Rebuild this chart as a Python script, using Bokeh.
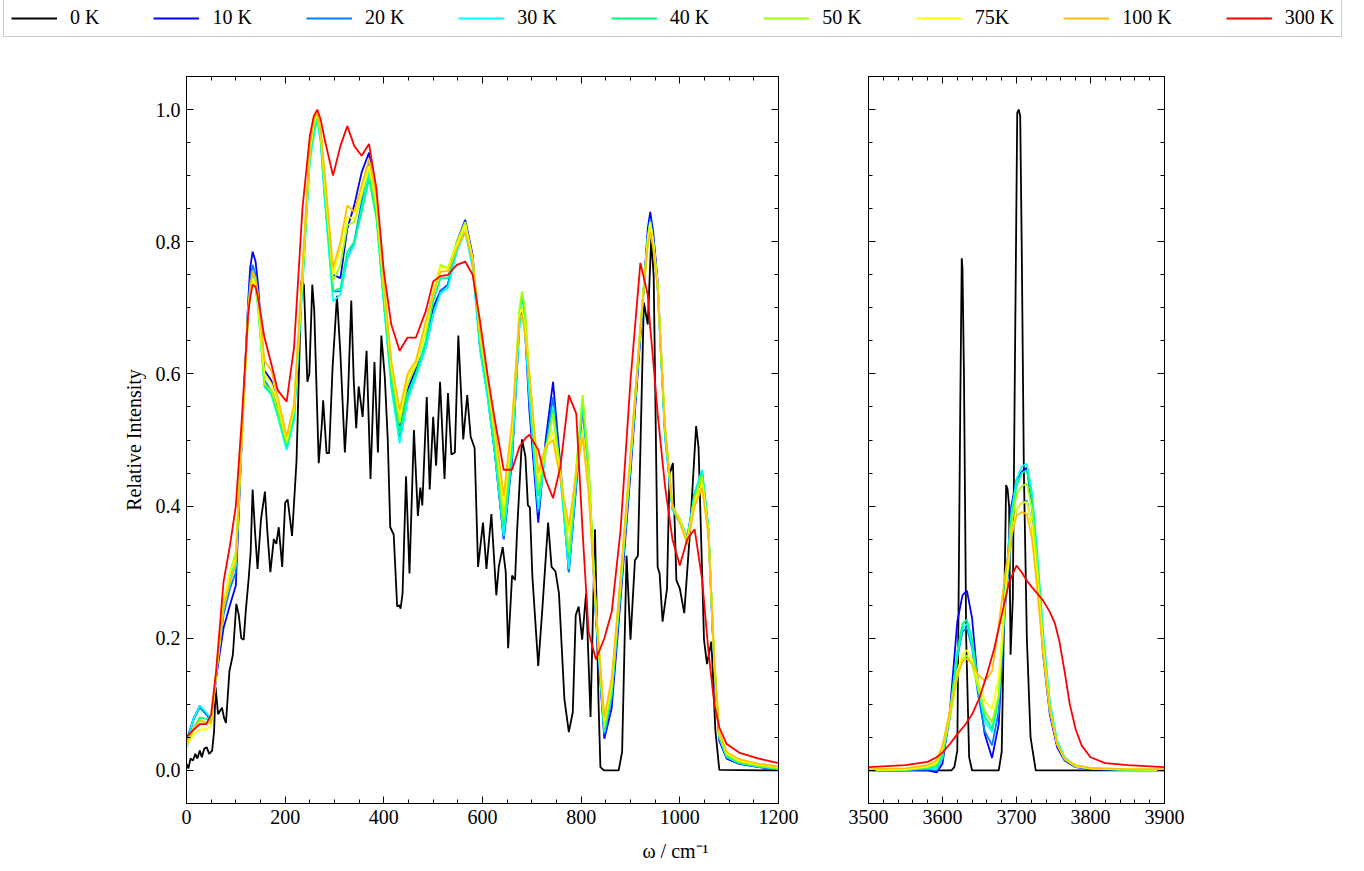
from bokeh.plotting import figure
from bokeh.models import (Range1d, FixedTicker, NumeralTickFormatter, LinearAxis,
                          Legend, LegendItem, Label, CustomJSTickFormatter)
from bokeh.layouts import column, row
from bokeh.embed import file_html
from bokeh.resources import INLINE

FONT = "Liberation Serif"

labels = ["0 K", "10 K", "20 K", "30 K", "40 K", "50 K", "75K", "100 K", "300 K"]
colors = ["#000000", "#0000ff", "#0080ff", "#00ffff", "#00ff80", "#a0ff00", "#ffff00", "#ffc000", "#ff0000"]

# ---------------- left panel (0 - 1200 cm-1) ----------------
x_left_0K = [0,4,8,13,18,22,27,31,36,41,46,52,56,59,64,68,72,76,80,87,94,101,106,111,116,120,126,130,134,139,
             144,151,159,164,170,177,182,187,194,200,205,214,223,233,238,245,249,255,259,268,274,277,284,289,296,305,312,321,327,334,
             339,344,349,357,365,373,381,388,395,402,408,413,420,427,431,434,438,445,452,461,469,474,478,487,493,500,506,514,523,530,
             537,544,551,561,569,576,584,591,601,608,618,628,633,641,647,652,660,666,670,680,687,692,696,701,713,721,733,740,748,755,
             766,775,783,789,795,802,810,819,828,835,839,846,876,883,892,900,909,915,927,935,942,947,955,959,965,974,979,986,993,1000,
             1009,1020,1033,1038,1049,1055,1064,1072,1080,1200]
y_left_0K = [0.010,0.003,0.018,0.015,0.025,0.018,0.030,0.020,0.033,0.035,0.025,0.030,0.060,0.126,0.085,0.090,0.095,0.080,0.072,0.150,
             0.175,0.252,0.235,0.200,0.198,0.240,0.290,0.330,0.425,0.360,0.305,0.380,0.422,0.360,0.300,0.350,0.343,0.368,0.308,0.405,
             0.410,0.355,0.468,0.741,0.735,0.588,0.600,0.735,0.695,0.465,0.520,0.560,0.480,0.480,0.608,0.718,0.630,0.481,0.560,0.711,
             0.590,0.518,0.581,0.535,0.635,0.441,0.618,0.481,0.658,0.595,0.500,0.368,0.357,0.248,0.250,0.245,0.268,0.445,0.298,0.515,
             0.385,0.428,0.401,0.565,0.425,0.535,0.461,0.588,0.441,0.571,0.478,0.481,0.658,0.501,0.568,0.505,0.488,0.308,0.375,0.305,
             0.388,0.265,0.308,0.338,0.301,0.185,0.295,0.288,0.361,0.501,0.475,0.401,0.398,0.295,0.158,0.241,0.375,0.308,0.301,0.268,
             0.108,0.058,0.088,0.235,0.248,0.198,0.268,0.081,0.365,0.108,0.005,0.000,0.000,0.028,0.325,0.198,0.318,0.325,0.708,0.675,
             0.805,0.748,0.308,0.298,0.225,0.275,0.448,0.465,0.288,0.275,0.238,0.355,0.521,0.488,0.198,0.161,0.195,0.061,0.001,0.000]

x_left = [0,15,27,40,50,60,75,88,100,112,
          125,129,134,140,145,158,172,185,203,218,
          235,250,258,265,272,280,297,312,326,340,
          355,370,385,400,415,432,448,465,485,500,
          515,530,548,565,580,595,610,625,643,660,
          675,680,686,695,713,728,743,758,775,790,
          803,815,830,847,862,880,900,920,935,940,
          946,955,970,985,1000,1015,1030,1045,1058,1070,
          1080,1095,1120,1160,1200]
y_left_10K = [0.045,0.080,0.098,0.085,0.075,0.140,0.215,0.250,0.280,0.500,
              0.710,0.760,0.785,0.770,0.735,0.605,0.590,0.550,0.492,0.540,
              0.745,0.940,0.980,0.995,0.965,0.885,0.750,0.745,0.820,0.855,
              0.905,0.935,0.850,0.720,0.600,0.521,0.575,0.608,0.640,0.700,
              0.726,0.735,0.800,0.833,0.780,0.640,0.570,0.480,0.350,0.470,
              0.680,0.700,0.670,0.545,0.375,0.500,0.588,0.460,0.300,0.430,
              0.550,0.450,0.230,0.048,0.095,0.260,0.450,0.655,0.820,0.845,
              0.815,0.740,0.510,0.400,0.378,0.352,0.420,0.450,0.360,0.150,
              0.045,0.018,0.010,0.005,0.002]
y_left_20K = [0.040,0.078,0.095,0.085,0.075,0.140,0.235,0.275,0.300,0.500,
              0.700,0.740,0.765,0.750,0.720,0.590,0.575,0.540,0.488,0.535,
              0.740,0.930,0.970,0.990,0.955,0.870,0.725,0.725,0.775,0.800,
              0.860,0.920,0.845,0.710,0.590,0.505,0.565,0.600,0.640,0.690,
              0.725,0.735,0.795,0.828,0.770,0.640,0.570,0.480,0.350,0.475,
              0.680,0.700,0.672,0.560,0.390,0.490,0.565,0.450,0.300,0.435,
              0.550,0.450,0.230,0.055,0.110,0.270,0.460,0.660,0.810,0.835,
              0.805,0.730,0.505,0.395,0.375,0.350,0.418,0.452,0.365,0.155,
              0.048,0.020,0.011,0.005,0.002]
y_left_30K = [0.042,0.080,0.098,0.088,0.078,0.145,0.245,0.285,0.310,0.500,
              0.690,0.725,0.750,0.735,0.710,0.585,0.568,0.535,0.485,0.530,
              0.730,0.920,0.960,0.985,0.950,0.865,0.710,0.720,0.775,0.795,
              0.850,0.905,0.840,0.705,0.580,0.495,0.560,0.595,0.640,0.690,
              0.722,0.730,0.785,0.815,0.760,0.635,0.565,0.480,0.355,0.480,
              0.670,0.690,0.665,0.565,0.395,0.480,0.550,0.440,0.305,0.440,
              0.555,0.455,0.235,0.058,0.115,0.275,0.465,0.665,0.805,0.830,
              0.800,0.730,0.505,0.395,0.375,0.350,0.420,0.455,0.368,0.158,
              0.050,0.020,0.011,0.006,0.002]
y_left_40K = [0.035,0.065,0.080,0.078,0.075,0.145,0.250,0.295,0.320,0.510,
              0.690,0.720,0.745,0.730,0.700,0.580,0.570,0.540,0.490,0.540,
              0.740,0.930,0.970,0.990,0.955,0.875,0.725,0.730,0.785,0.800,
              0.845,0.895,0.835,0.710,0.590,0.510,0.570,0.600,0.650,0.710,
              0.745,0.745,0.790,0.825,0.770,0.645,0.575,0.490,0.370,0.500,
              0.695,0.715,0.690,0.590,0.415,0.485,0.545,0.450,0.320,0.455,
              0.560,0.460,0.240,0.062,0.120,0.280,0.470,0.670,0.805,0.830,
              0.800,0.735,0.515,0.400,0.380,0.350,0.415,0.450,0.365,0.160,
              0.052,0.022,0.012,0.007,0.003]
y_left_50K = [0.040,0.062,0.076,0.072,0.072,0.150,0.255,0.300,0.330,0.510,
              0.690,0.720,0.745,0.730,0.705,0.585,0.575,0.545,0.495,0.545,
              0.745,0.935,0.975,0.995,0.960,0.885,0.740,0.765,0.825,0.830,
              0.870,0.912,0.850,0.725,0.605,0.525,0.585,0.612,0.665,0.725,
              0.765,0.760,0.800,0.830,0.775,0.655,0.585,0.505,0.380,0.510,
              0.700,0.725,0.700,0.600,0.425,0.480,0.540,0.455,0.330,0.460,
              0.568,0.465,0.245,0.065,0.125,0.285,0.470,0.670,0.805,0.830,
              0.800,0.735,0.520,0.400,0.380,0.348,0.412,0.445,0.362,0.160,
              0.054,0.024,0.013,0.007,0.003]
y_left_75K = [0.038,0.055,0.062,0.062,0.068,0.145,0.250,0.300,0.320,0.500,
              0.690,0.720,0.745,0.735,0.710,0.600,0.585,0.555,0.500,0.550,
              0.750,0.940,0.980,0.995,0.965,0.895,0.750,0.790,0.838,0.835,
              0.875,0.915,0.860,0.730,0.615,0.535,0.595,0.615,0.670,0.725,
              0.762,0.758,0.795,0.825,0.775,0.660,0.590,0.510,0.400,0.520,
              0.690,0.700,0.670,0.600,0.440,0.490,0.512,0.445,0.360,0.450,
              0.515,0.430,0.240,0.075,0.135,0.290,0.475,0.670,0.800,0.828,
              0.800,0.735,0.520,0.400,0.378,0.345,0.405,0.435,0.360,0.165,
              0.056,0.026,0.015,0.009,0.005]
y_left_100K = [0.040,0.065,0.075,0.073,0.072,0.145,0.245,0.285,0.315,0.500,
               0.700,0.730,0.755,0.745,0.720,0.620,0.605,0.565,0.505,0.555,
               0.760,0.945,0.985,0.997,0.970,0.905,0.760,0.800,0.855,0.845,
               0.885,0.925,0.870,0.740,0.620,0.545,0.600,0.620,0.680,0.720,
               0.755,0.755,0.790,0.815,0.770,0.665,0.595,0.520,0.415,0.530,
               0.685,0.690,0.660,0.600,0.450,0.490,0.500,0.440,0.370,0.450,
               0.505,0.420,0.245,0.080,0.140,0.295,0.480,0.670,0.795,0.815,
               0.790,0.730,0.520,0.400,0.375,0.342,0.400,0.428,0.355,0.168,
               0.058,0.028,0.017,0.010,0.006]
y_left_300K = [0.051,0.062,0.070,0.070,0.085,0.150,0.285,0.340,0.400,0.530,
               0.690,0.715,0.735,0.732,0.715,0.655,0.615,0.575,0.558,0.640,
               0.850,0.960,0.990,1.000,0.985,0.955,0.900,0.945,0.975,0.945,
               0.930,0.948,0.880,0.755,0.675,0.635,0.655,0.655,0.695,0.740,
               0.748,0.750,0.765,0.770,0.750,0.680,0.600,0.530,0.455,0.455,
               0.490,0.495,0.502,0.508,0.485,0.440,0.412,0.460,0.568,0.540,
               0.360,0.210,0.168,0.200,0.240,0.365,0.590,0.768,0.720,0.670,
               0.620,0.540,0.430,0.350,0.310,0.350,0.365,0.290,0.180,0.100,
               0.065,0.040,0.027,0.018,0.011]

# ---------------- right panel (3500 - 3900 cm-1) ----------------
x_right_0K = [3500,3612,3616,3620,3624,3626,3627,3629,3632,3636,3640,3676,3680,3683,3686,3688,3690,3692,3695,3698,
              3701,3703,3705,3707,3710,3714,3719,3726,3900]
y_right_0K = [0,0,0.005,0.030,0.55,0.775,0.76,0.60,0.20,0.02,0,0,0.028,0.22,0.432,0.425,0.40,0.175,0.26,0.63,
              0.995,1.0,0.99,0.80,0.45,0.20,0.05,0,0]

x_right = [3500,3550,3580,3592,3600,3610,3620,3627,3633,3640,3648,3657,3667,3676,3685,3693,3700,3707,3714,3721,
           3728,3736,3745,3755,3765,3780,3800,3850,3900]
y_right_10K = [0.000,0.000,0.000,-0.003,0.010,0.090,0.225,0.265,0.272,0.230,0.130,0.055,0.019,0.070,0.270,0.400,0.440,0.452,0.458,0.400,
               0.300,0.175,0.085,0.035,0.015,0.005,0.002,0.001,0.000]
y_right_20K = [0.000,0.000,0.002,0.000,0.018,0.080,0.170,0.210,0.216,0.185,0.115,0.060,0.038,0.090,0.250,0.350,0.395,0.405,0.408,0.370,
               0.290,0.180,0.090,0.040,0.018,0.006,0.002,0.001,0.001]
y_right_30K = [0.000,0.001,0.003,0.002,0.020,0.085,0.175,0.215,0.222,0.190,0.125,0.075,0.058,0.110,0.280,0.390,0.440,0.460,0.464,0.420,
               0.330,0.210,0.105,0.045,0.020,0.007,0.003,0.001,0.001]
y_right_40K = [0.000,0.001,0.004,0.006,0.025,0.090,0.180,0.222,0.228,0.198,0.135,0.082,0.063,0.110,0.270,0.380,0.430,0.450,0.454,0.410,
               0.320,0.200,0.098,0.040,0.017,0.006,0.003,0.001,0.001]
y_right_50K = [0.000,0.001,0.005,0.010,0.030,0.080,0.140,0.168,0.174,0.160,0.125,0.090,0.073,0.115,0.265,0.370,0.418,0.430,0.434,0.395,
               0.310,0.195,0.095,0.040,0.017,0.006,0.003,0.001,0.001]
y_right_75K = [0.001,0.002,0.006,0.012,0.035,0.090,0.150,0.176,0.182,0.168,0.135,0.105,0.093,0.140,0.270,0.355,0.395,0.405,0.406,0.370,
               0.290,0.185,0.092,0.040,0.018,0.007,0.003,0.002,0.001]
y_right_100K = [0.002,0.003,0.008,0.015,0.038,0.090,0.145,0.165,0.169,0.162,0.145,0.135,0.150,0.220,0.300,0.355,0.385,0.391,0.388,0.350,
                0.275,0.175,0.090,0.040,0.018,0.008,0.004,0.002,0.002]
x_right_300K = [3500,3550,3580,3592,3600,3610,3620,3630,3640,3650,3660,3670,3680,3690,3700,3707,3714,3721,3728,3736,
                3745,3752,3758,3765,3772,3780,3788,3800,3820,3850,3900]
y_right_300K = [0.005,0.008,0.013,0.020,0.027,0.040,0.055,0.068,0.085,0.110,0.145,0.185,0.235,0.285,0.310,0.300,0.287,0.277,0.268,0.257,
                0.240,0.222,0.195,0.150,0.100,0.062,0.038,0.020,0.011,0.008,0.005]

# tick positions
left_xticks = [0, 200, 400, 600, 800, 1000, 1200]
left_xminor = list(range(0, 1201, 50))
right_xticks = [3500, 3600, 3700, 3800, 3900]
right_xminor = list(range(3500, 3901, 20))
yticks = [0.0, 0.2, 0.4, 0.6, 0.8, 1.0]
yminor = [round(-0.05 + 0.05 * i, 2) for i in range(23)]

left_series = [(x_left_0K, y_left_0K), (x_left, y_left_10K), (x_left, y_left_20K), (x_left, y_left_30K),
               (x_left, y_left_40K), (x_left, y_left_50K), (x_left, y_left_75K), (x_left, y_left_100K),
               (x_left, y_left_300K)]
right_series = [(x_right_0K, y_right_0K), (x_right, y_right_10K), (x_right, y_right_20K), (x_right, y_right_30K),
                (x_right, y_right_40K), (x_right, y_right_50K), (x_right, y_right_75K), (x_right, y_right_100K),
                (x_right_300K, y_right_300K)]

LW = 1.8
PANEL_H = 789
blank = CustomJSTickFormatter(code="return '';")


def style_axis(ax, ticks, minor, fmt):
    ax.ticker = FixedTicker(ticks=ticks, minor_ticks=minor)
    ax.major_tick_in = 7
    ax.major_tick_out = 0
    ax.minor_tick_in = 4
    ax.minor_tick_out = 0
    ax.axis_line_color = "black"
    ax.major_tick_line_color = "black"
    ax.minor_tick_line_color = "black"
    ax.major_label_text_font = FONT
    ax.major_label_text_font_size = "20px"
    ax.major_label_text_color = "black"
    ax.major_label_standoff = 6
    ax.formatter = fmt


def make_panel(width, xr, series, xticks, xminor, mb_left, mb_right, show_ylabels):
    p = figure(width=width, height=PANEL_H, x_range=xr, y_range=Range1d(-0.05, 1.05),
               output_backend="svg", toolbar_location=None,
               min_border_left=mb_left, min_border_right=mb_right,
               min_border_top=28, min_border_bottom=34)
    p.xgrid.visible = False
    p.ygrid.visible = False
    p.outline_line_color = "black"
    for (xs, ys), c in zip(series, colors):
        p.line(xs, ys, line_color=c, line_width=LW)
    style_axis(p.xaxis[0], xticks, xminor, NumeralTickFormatter(format="0"))
    style_axis(p.yaxis[0], yticks, yminor,
               NumeralTickFormatter(format="0.0") if show_ylabels else blank)
    top = LinearAxis()
    style_axis(top, xticks, xminor, blank)
    p.add_layout(top, "above")
    right = LinearAxis()
    style_axis(right, yticks, yminor, blank)
    p.add_layout(right, "right")
    return p


p1 = make_panel(823, Range1d(0, 1200), left_series, left_xticks, left_xminor, 186, 45, True)
p1.yaxis[0].axis_label = "Relative Intensity"
p1.yaxis[0].axis_label_text_font = FONT
p1.yaxis[0].axis_label_text_font_size = "20px"
p1.yaxis[0].axis_label_text_font_style = "normal"
p1.yaxis[0].axis_label_text_color = "black"
p1.yaxis[0].axis_label_standoff = 8

p2 = make_panel(541, Range1d(3500, 3900), right_series, right_xticks, right_xminor, 45, 200, False)

# legend strip: the same series, but outside the visible range, so only the legend shows
pl = figure(width=1364, height=48, x_range=Range1d(-20, -10), y_range=Range1d(-20, -10),
            output_backend="svg", toolbar_location=None, x_axis_type=None, y_axis_type=None,
            min_border=0, outline_line_color=None)
items = []
for lab, c, (xs, ys) in zip(labels, colors, left_series):
    r = pl.line(xs, ys, line_color=c, line_width=2)
    items.append(LegendItem(label=lab, renderers=[r]))
leg = Legend(items=items, orientation="horizontal", location=(3, 11),
             glyph_width=46, glyph_height=20, label_standoff=13, spacing=54,
             padding=7, margin=0, label_text_font=FONT, label_text_font_size="20px",
             label_text_color="black",
             border_line_color="#cccccc", border_line_width=1, border_line_alpha=1,
             background_fill_color="white", background_fill_alpha=1)
pl.add_layout(leg)

# common x label strip
px = figure(width=1364, height=34, x_range=Range1d(0, 1), y_range=Range1d(0, 1),
            output_backend="svg", toolbar_location=None, x_axis_type=None, y_axis_type=None,
            min_border=0, outline_line_color=None)
px.add_layout(Label(x=675, y=21, x_units="screen", y_units="screen", text="ω / cm⁻¹",
                    text_align="center", text_baseline="middle", text_font=FONT,
                    text_font_size="20px", text_color="black"))

layout = column(pl, row(p1, p2), px)
open("out.html", "w").write(file_html(layout, INLINE))
